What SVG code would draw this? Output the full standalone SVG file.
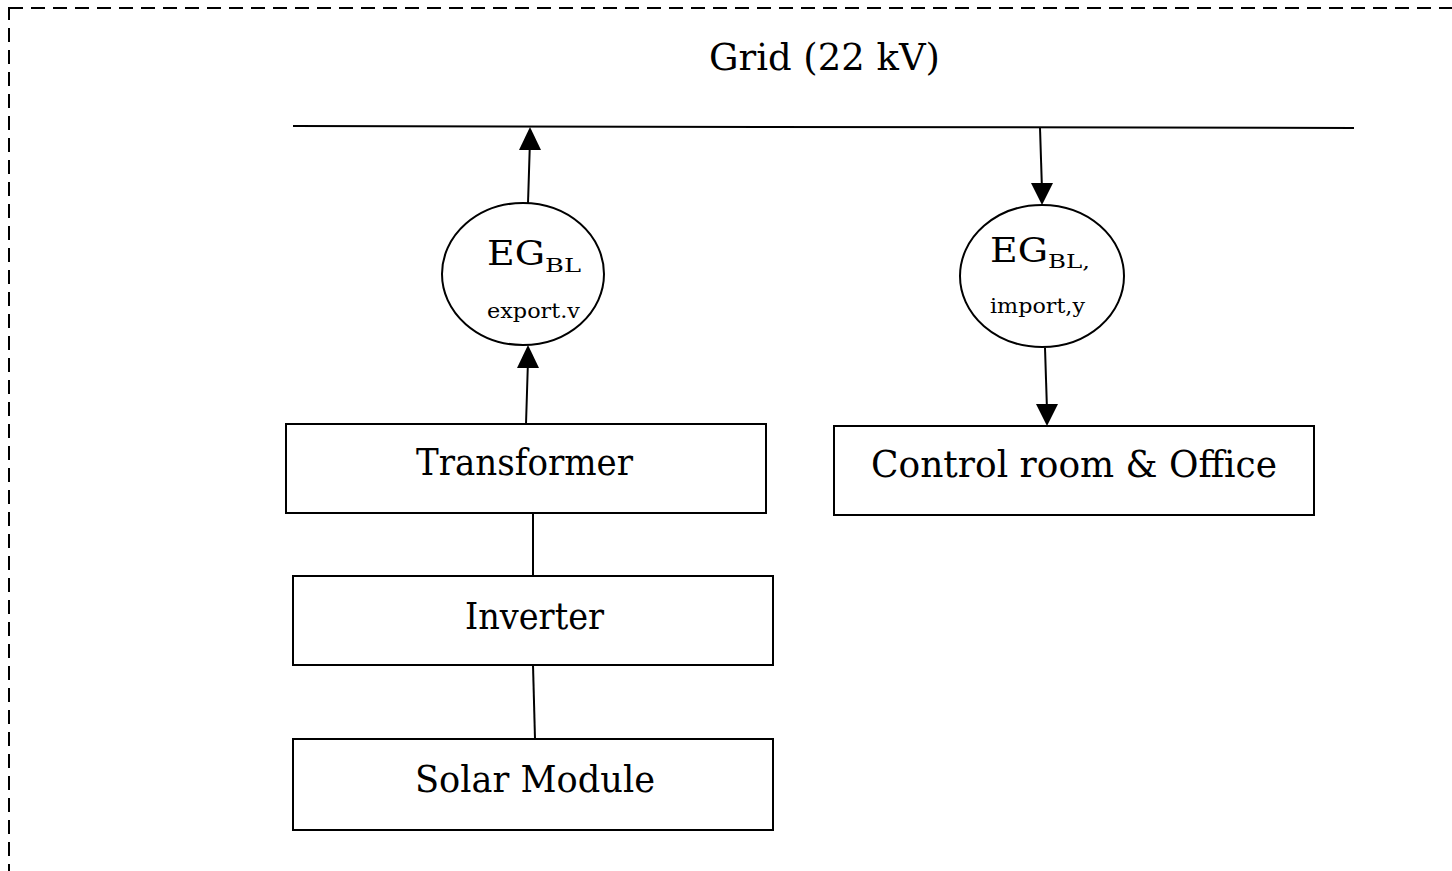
<svg xmlns="http://www.w3.org/2000/svg" width="1452" height="871" viewBox="0 0 1452 871">
  <style>
    .box { fill: #fff; stroke: #000; stroke-width: 2; }
    .meter { fill: #fff; stroke: #000; stroke-width: 2; }
    .lbl { font-family: "DejaVu Serif", "Liberation Serif", serif; fill: #000; }
    .big { font-size: 38px; }
    .eg { font-size: 34px; }
    .sub { font-size: 19px; }
    .small { font-size: 20px; }
    .wire { stroke: #000; stroke-width: 2; fill: none; }
    .head { fill: #000; }
  </style>
  <rect width="1452" height="871" fill="#fff"/>

  <!-- plant boundary -->
  <rect x="9" y="8" width="1460" height="900" fill="none" stroke="#000" stroke-width="2" stroke-dasharray="14,8"/>

  <!-- grid bus -->
  <g id="grid">
    <line x1="293" y1="126" x2="1354" y2="128" stroke="#000" stroke-width="2"/>
    <text class="lbl big" x="709" y="70" textLength="231" lengthAdjust="spacingAndGlyphs">Grid (22 kV)</text>
  </g>

  <g id="connectors">
    <line class="wire" x1="528" y1="203" x2="530" y2="140"/>
    <line class="wire" x1="526" y1="424" x2="528" y2="360"/>
    <line class="wire" x1="1040" y1="128" x2="1042" y2="190"/>
    <line class="wire" x1="1045" y1="348" x2="1047" y2="410"/>
    <line class="wire" x1="533" y1="513" x2="533" y2="576"/>
    <line class="wire" x1="533" y1="665" x2="535" y2="739"/>
    <!-- arrowheads -->
    <path class="head" d="M519,150 L530,127 L541,150 z"/>
    <path class="head" d="M517,368 L528,345 L539,368 z"/>
    <path class="head" d="M1031,183 L1042,205 L1053,183 z"/>
    <path class="head" d="M1036,404 L1047,426 L1058,404 z"/>
  </g>

  <g id="meter-export">
    <ellipse class="meter" cx="523" cy="274" rx="81" ry="71"/>
    <text class="lbl eg" x="487" y="265" textLength="58" lengthAdjust="spacingAndGlyphs">EG</text>
    <text class="lbl sub" x="545" y="272" textLength="36" lengthAdjust="spacingAndGlyphs">BL</text>
    <text class="lbl small" x="487" y="318" textLength="93" lengthAdjust="spacingAndGlyphs">export.v</text>
  </g>

  <g id="meter-import">
    <ellipse class="meter" cx="1042" cy="276" rx="82" ry="71"/>
    <text class="lbl eg" x="990" y="262" textLength="58" lengthAdjust="spacingAndGlyphs">EG</text>
    <text class="lbl sub" x="1048" y="268" textLength="42" lengthAdjust="spacingAndGlyphs">BL,</text>
    <text class="lbl small" x="990" y="313" textLength="95" lengthAdjust="spacingAndGlyphs">import,y</text>
  </g>

  <g id="transformer">
    <rect class="box" x="286" y="424" width="480" height="89"/>
    <text class="lbl big" x="416" y="475" textLength="217" lengthAdjust="spacingAndGlyphs">Transformer</text>
  </g>

  <g id="control-room">
    <rect class="box" x="834" y="426" width="480" height="89"/>
    <text class="lbl big" x="871" y="477" textLength="406" lengthAdjust="spacingAndGlyphs">Control room &amp; Office</text>
  </g>

  <g id="inverter">
    <rect class="box" x="293" y="576" width="480" height="89"/>
    <text class="lbl big" x="465" y="629" textLength="139" lengthAdjust="spacingAndGlyphs">Inverter</text>
  </g>

  <g id="solar-module">
    <rect class="box" x="293" y="739" width="480" height="91"/>
    <text class="lbl big" x="415" y="792" textLength="240" lengthAdjust="spacingAndGlyphs">Solar Module</text>
  </g>
</svg>
